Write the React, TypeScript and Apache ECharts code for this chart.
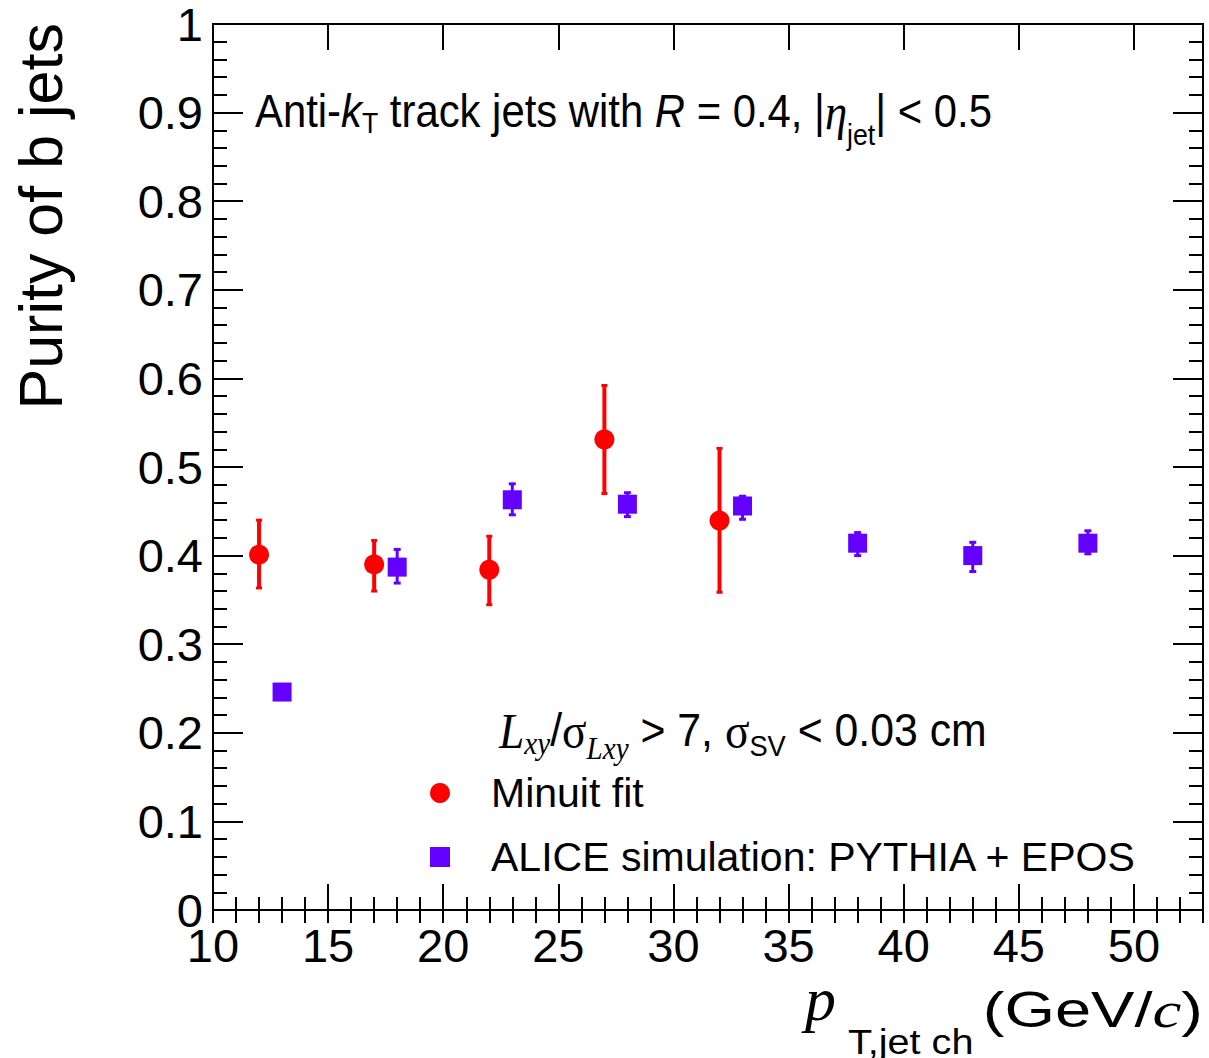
import React, { useEffect, useRef } from 'react';
import * as echarts from 'echarts';

// ---- data ----
const minuitX = [12, 17, 22, 27, 32];
const minuitY = [0.401, 0.39, 0.384, 0.531, 0.4395];
const minuitLow = [0.3635, 0.36, 0.3446, 0.47, 0.3586];
const minuitHigh = [0.44, 0.417, 0.4218, 0.592, 0.521];

const simX = [13, 18, 23, 28, 33, 38, 43, 48];
const simY = [0.246, 0.387, 0.463, 0.458, 0.456, 0.414, 0.4, 0.414];
const simLow = [0.241, 0.369, 0.446, 0.444, 0.441, 0.4, 0.382, 0.402];
const simHigh = [0.251, 0.407, 0.481, 0.471, 0.467, 0.426, 0.415, 0.428];

const xMin = 10;
const xMax = 53;
const xMajor = 5;
const xMinor = 1;
const yMin = 0;
const yMax = 1;
const yMajor = 0.1;

const seriesNames = ['Minuit fit', 'ALICE simulation: PYTHIA + EPOS'];

const SANS = "'Liberation Sans', Arial, Helvetica, sans-serif";
const SERIF = "'Liberation Serif', 'Times New Roman', serif";
const RED = '#ff0000';
const VIOLET = '#6300ff';
const BLACK = '#000000';

const errorBar = (color: string, lineW: number, capW: number) => (params: any, api: any) => {
  const x = api.value(0);
  const lo = api.coord([x, api.value(1)]);
  const hi = api.coord([x, api.value(2)]);
  return {
    type: 'group',
    children: [
      { type: 'line', shape: { x1: lo[0], y1: lo[1], x2: hi[0], y2: hi[1] }, style: { stroke: color, lineWidth: lineW } },
      { type: 'line', shape: { x1: lo[0] - capW / 2, y1: lo[1], x2: lo[0] + capW / 2, y2: lo[1] }, style: { stroke: color, lineWidth: 3 } },
      { type: 'line', shape: { x1: hi[0] - capW / 2, y1: hi[1], x2: hi[0] + capW / 2, y2: hi[1] }, style: { stroke: color, lineWidth: 3 } },
    ],
  };
};

const tickStyle = { color: BLACK, width: 2 };
const lineStyle = { color: BLACK, width: 2 };

const xBase = {
  type: 'value',
  min: xMin,
  max: xMax,
  splitLine: { show: false },
  axisLine: { show: true, onZero: false, lineStyle },
};

const yBase = {
  type: 'value',
  min: yMin,
  max: yMax,
  interval: yMajor,
  splitLine: { show: false },
  axisLine: { show: true, onZero: false, lineStyle },
  axisTick: { inside: true, length: 30, lineStyle: tickStyle },
  minorTick: { show: true, splitNumber: 5, length: 14, lineStyle: tickStyle },
  minorSplitLine: { show: false },
};

const option: any = {
  animation: false,
  backgroundColor: '#ffffff',
  grid: { left: 213, right: 6, top: 24, bottom: 148, containLabel: false },
  xAxis: [
    {
      ...xBase,
      position: 'bottom',
      interval: xMajor,
      axisTick: { inside: true, length: 26, lineStyle: tickStyle },
      axisLabel: {
        margin: 12,
        fontSize: 47,
        fontFamily: SANS,
        color: BLACK,
        formatter: (v: number) => (Math.abs(v % xMajor) < 1e-9 ? String(v) : ''),
      },
    },
    {
      ...xBase,
      position: 'bottom',
      interval: xMinor,
      axisLine: { show: false },
      axisTick: { inside: true, length: 13, lineStyle: tickStyle },
      axisLabel: { show: false },
    },
    {
      ...xBase,
      position: 'top',
      interval: xMajor,
      axisTick: { inside: true, length: 26, lineStyle: tickStyle },
      axisLabel: { show: false },
    },
    {
      ...xBase,
      position: 'top',
      interval: xMinor,
      axisLine: { show: false },
      axisTick: { inside: true, length: 13, lineStyle: tickStyle },
      axisLabel: { show: false },
    },
  ],
  yAxis: [
    {
      ...yBase,
      position: 'left',
      axisLabel: { margin: 10, fontSize: 47, lineHeight: 40, fontFamily: SANS, color: BLACK },
    },
    {
      ...yBase,
      position: 'right',
      axisLabel: { show: false },
    },
  ],
  legend: {
    orient: 'vertical',
    left: 425,
    top: 766,
    itemWidth: 20,
    itemHeight: 20,
    itemGap: 20,
    selectedMode: false,
    data: [
      { name: seriesNames[0], icon: 'circle' },
      { name: seriesNames[1], icon: 'rect' },
    ],
    textStyle: { fontSize: 41, fontFamily: SANS, color: BLACK, lineHeight: 44, padding: [0, 0, 0, 36] },
  },
  series: [
    {
      name: 'minuitErr',
      type: 'custom',
      xAxisIndex: 0,
      yAxisIndex: 0,
      renderItem: errorBar(RED, 4, 6),
      encode: { x: 0, y: [1, 2] },
      data: minuitX.map((x, i) => [x, minuitLow[i], minuitHigh[i]]),
      z: 2,
    },
    {
      name: 'simErr',
      type: 'custom',
      xAxisIndex: 0,
      yAxisIndex: 0,
      renderItem: errorBar(VIOLET, 3, 7),
      encode: { x: 0, y: [1, 2] },
      data: simX.map((x, i) => [x, simLow[i], simHigh[i]]),
      z: 2,
    },
    {
      name: seriesNames[0],
      type: 'scatter',
      xAxisIndex: 0,
      yAxisIndex: 0,
      symbol: 'circle',
      symbolSize: 20,
      itemStyle: { color: RED, opacity: 1 },
      data: minuitX.map((x, i) => [x, minuitY[i]]),
      z: 3,
    },
    {
      name: seriesNames[1],
      type: 'scatter',
      xAxisIndex: 0,
      yAxisIndex: 0,
      symbol: 'rect',
      symbolSize: 19,
      itemStyle: { color: VIOLET, opacity: 1 },
      data: simX.map((x, i) => [x, simY[i]]),
      z: 3,
    },
  ],
  graphic: [
    {
      type: 'text',
      x: 41,
      y: 23,
      rotation: Math.PI / 2,
      style: {
        text: 'Purity of b jets',
        fontFamily: SANS,
        fontSize: 61,
        fill: BLACK,
        align: 'right',
        verticalAlign: 'middle',
      },
    },
    {
      type: 'text',
      x: 255,
      y: 87,
      scaleX: 0.89,
      style: {
        text: '{m|Anti-}{mi|k}{s1|T}{m| track jets with }{mi|R}{m| = 0.4, |}{g|η}{s2|jet}{m|| < 0.5}',
        align: 'left',
        verticalAlign: 'top',
        fill: BLACK,
        rich: {
          m: { fontFamily: SANS, fontSize: 47, verticalAlign: 'top', fill: BLACK },
          mi: { fontFamily: SANS, fontSize: 47, fontStyle: 'italic', verticalAlign: 'top', fill: BLACK },
          s1: { fontFamily: SANS, fontSize: 30, verticalAlign: 'top', padding: [20, 0, 0, 0], fill: BLACK },
          g: { fontFamily: SERIF, fontSize: 50, fontStyle: 'italic', verticalAlign: 'top', fill: BLACK },
          s2: { fontFamily: SANS, fontSize: 30, verticalAlign: 'top', padding: [32, 0, 0, 0], fill: BLACK },
        },
      },
    },
    {
      type: 'text',
      x: 499,
      y: 706,
      scaleX: 0.91,
      style: {
        text: '{Li|L}{sxy|xy}{m|/}{gr|σ}{sl|Lxy}{m| > 7, }{gr|σ}{ssv|SV}{m| < 0.03 cm}',
        align: 'left',
        verticalAlign: 'top',
        fill: BLACK,
        rich: {
          m: { fontFamily: SANS, fontSize: 47, verticalAlign: 'top', fill: BLACK },
          Li: { fontFamily: SERIF, fontSize: 50, fontStyle: 'italic', verticalAlign: 'top', fill: BLACK },
          sxy: { fontFamily: SERIF, fontSize: 32, fontStyle: 'italic', verticalAlign: 'top', padding: [22, 0, 0, 0], fill: BLACK },
          gr: { fontFamily: SERIF, fontSize: 50, verticalAlign: 'top', fill: BLACK },
          sl: { fontFamily: SERIF, fontSize: 32, fontStyle: 'italic', verticalAlign: 'top', padding: [27, 0, 0, 0], fill: BLACK },
          ssv: { fontFamily: SANS, fontSize: 30, verticalAlign: 'top', padding: [25, 0, 0, 0], fill: BLACK },
        },
      },
    },
    {
      type: 'text',
      x: 805,
      y: 999,
      style: {
        text: 'p',
        fontFamily: SERIF,
        fontStyle: 'italic',
        fontSize: 62,
        fill: BLACK,
        align: 'left',
        verticalAlign: 'middle',
      },
    },
    {
      type: 'text',
      x: 848,
      y: 1042,
      scaleX: 1.1,
      style: {
        text: 'T,jet ch',
        fontFamily: SANS,
        fontSize: 36,
        lineHeight: 30,
        fill: BLACK,
        align: 'left',
        verticalAlign: 'middle',
      },
    },
    {
      type: 'text',
      x: 1203,
      y: 1010,
      scaleX: 1.3,
      style: {
        text: '{m|(GeV/}{c|c}{m|)}',
        align: 'right',
        verticalAlign: 'middle',
        fill: BLACK,
        rich: {
          m: { fontFamily: SANS, fontSize: 50, fill: BLACK },
          c: { fontFamily: SERIF, fontSize: 50, fontStyle: 'italic', fill: BLACK },
        },
      },
    },
  ],
};

export default function App() {
  const ref = useRef<HTMLDivElement>(null);
  useEffect(() => {
    if (!ref.current) return;
    const chart = echarts.init(ref.current, null, { renderer: 'svg' });
    chart.setOption(option);
    return () => chart.dispose();
  }, []);
  return (
    <div
      ref={ref}
      style={{ position: 'absolute', left: 0, top: 0, width: 1209, height: 1058, background: '#ffffff' }}
    />
  );
}
